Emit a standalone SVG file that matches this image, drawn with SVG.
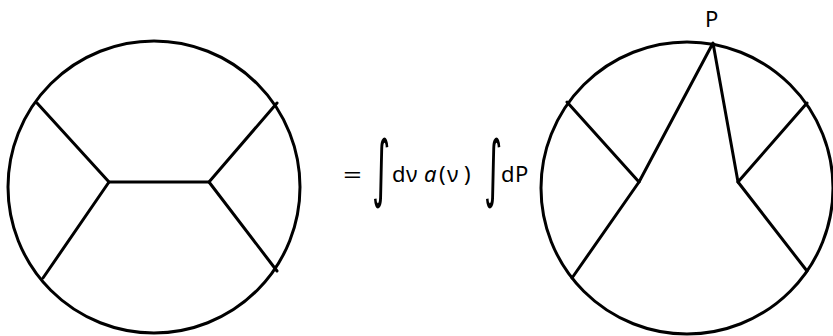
<svg xmlns="http://www.w3.org/2000/svg" width="833" height="336" viewBox="0 0 833 336">
<style>
.ln{fill:none;stroke:#000;stroke-width:3;stroke-linecap:round;stroke-linejoin:round}
.t{font-family:"Noto Sans","DejaVu Sans",sans-serif;font-size:22px;fill:#000}
.int{font-family:"DejaVu Sans",sans-serif;font-size:32px;fill:#000}
</style>
<rect width="833" height="336" fill="#fff"/>
<g id="left-diagram">
<circle class="ln" cx="154" cy="187" r="146"/>
<g id="left-edges">
<polyline class="ln" points="37,103 109,182 209,182 277,103"/>
<polyline class="ln" points="43,278 109,182"/>
<polyline class="ln" points="209,182 277,271"/>
</g>
</g>
<g id="formula">
<text class="t" x="343" y="183" transform="translate(343 0) scale(1.5 1) translate(-343 0)">=</text>
<text class="int" x="0" y="0" transform="translate(372 193) scale(1.1 2.3)">∫</text>
<text class="t" y="182"><tspan x="392">d</tspan><tspan x="406">ν</tspan><tspan x="424" font-style="italic">a</tspan><tspan x="439">(</tspan><tspan x="447">ν</tspan><tspan x="464">)</tspan></text>
<text class="int" x="0" y="0" transform="translate(484 193) scale(1.1 2.3)">∫</text>
<text class="t" y="182"><tspan x="501">d</tspan><tspan x="515">P</tspan></text>
</g>
<g id="right-diagram">
<circle class="ln" cx="687" cy="188" r="146"/>
<g id="right-edges">
<polyline class="ln" points="567,102 639,182 713,43 738,182 807,103"/>
<polyline class="ln" points="572,278 639,182"/>
<polyline class="ln" points="738,182 807,271"/>
</g>
<text class="t" x="705" y="27">P</text>
</g>
</svg>
